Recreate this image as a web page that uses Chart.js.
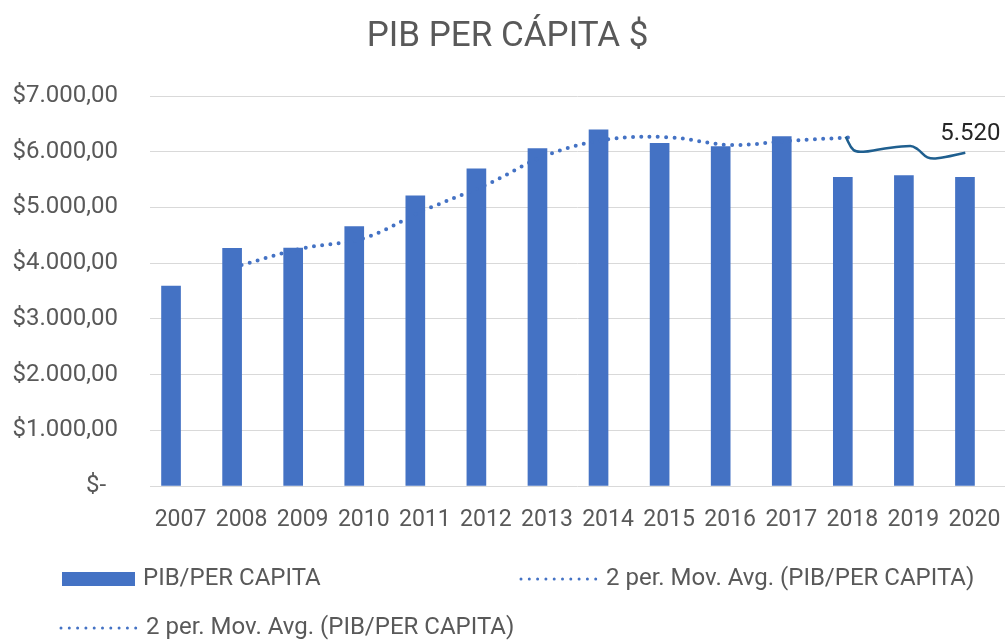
<html>
	<head>
		<script src="https://cdn.jsdelivr.net/npm/chart.js@4.4.1/dist/chart.umd.min.js"></script>
		<style>
			body { margin: 0; background: #ffffff; }
		</style>
	</head>
	<body>
		<canvas id="myChart" width="1005" height="641"></canvas>
		<script>
			// values
			var years = ['2007','2008','2009','2010','2011','2012','2013','2014','2015','2016','2017','2018','2019','2020'];
			var pib = [3590, 4267, 4270, 4655, 5206, 5691, 6056, 6391, 6152, 6092, 6271, 5542, 5571, 5542];
			var movAvg = [null, 3967, 4267, 4446, 4954, 5403, 5941, 6223, 6259, 6121, 6198, 6259, null, null];
			// the solid hand drawn bit at the end, x is the year position (0 = 2007)
			var trendX = [10.89, 11.02, 11.18, 11.46, 11.95, 12.07, 12.23, 12.39, 12.85];
			var trendY = [6270, 6031, 6001, 6044, 6103, 6044, 5900, 5882, 5983];
			var trendLabel = '5.520';
			// accounting format, zero is "$-" with a bit of space after it
			var yTickLabels = ['$-  ', '$1.000,00', '$2.000,00', '$3.000,00', '$4.000,00', '$5.000,00', '$6.000,00', '$7.000,00'];
			var seriesNames = ['PIB/PER CAPITA', '2 per. Mov. Avg. (PIB/PER CAPITA)', '2 per. Mov. Avg. (PIB/PER CAPITA)'];

			var color = {bar: '#4472C4', trend: '#1F5F8F', text: '#595959', grid: '#D9D9D9'};
			var font = 'Roboto';

			var trendPts = [];
			for(var i = 0; i < trendX.length; i++){
				trendPts.push({x: trendX[i], y: trendY[i]});
			}

			// legend drawn by hand so the rows sit like the excel one
			var legendPlugin = {
				id: 'handLegend',
				afterDraw: function(chart){
					var ctx = chart.ctx;
					var slots = [[62, 579], [520, 579], [60, 628]];
					ctx.save();
					ctx.font = '24px ' + font;
					ctx.textBaseline = 'middle';
					ctx.textAlign = 'left';
					for(var i = 0; i < chart.data.datasets.length; i++){
						var ds = chart.data.datasets[i];
						var x = slots[i][0], y = slots[i][1];
						if(ds.type === 'bar'){
							ctx.fillStyle = color.bar;
							ctx.fillRect(x, y - 7, 73, 14);
							ctx.fillStyle = color.text;
							ctx.fillText(ds.label, x + 81, y);
						}else{
							ctx.strokeStyle = color.bar;
							ctx.lineWidth = 3;
							ctx.lineCap = 'round';
							ctx.setLineDash([0, 8.3]);
							ctx.beginPath();
							ctx.moveTo(x + 1, y);
							ctx.lineTo(x + 76, y);
							ctx.stroke();
							ctx.setLineDash([]);
							ctx.fillStyle = color.text;
							ctx.fillText(ds.label, x + 86, y);
						}
					}
					ctx.restore();
				}
			};

			// the "5.520" text above the end of the solid line
			var trendLabelPlugin = {
				id: 'trendLabel',
				afterDatasetsDraw: function(chart){
					var meta = chart.getDatasetMeta(2);
					var last = meta.data[meta.data.length - 1];
					var ctx = chart.ctx;
					ctx.save();
					ctx.font = '24px ' + font;
					ctx.fillStyle = '#262626';
					ctx.textAlign = 'center';
					ctx.textBaseline = 'middle';
					ctx.fillText(trendLabel, last.x + 5, last.y - 19);
					ctx.restore();
				}
			};

			var ctx = document.getElementById('myChart').getContext('2d');
			var myChart = new Chart(ctx, {
				data: {
					labels: years,
					datasets: [{
						type: 'bar',
						label: seriesNames[0],
						data: pib,
						backgroundColor: color.bar,
						barThickness: 19,
						xAxisID: 'x',
						order: 3
					}, {
						type: 'line',
						label: seriesNames[1],
						data: movAvg,
						borderColor: color.bar,
						borderWidth: 4,
						borderDash: [0, 8.3],
						borderCapStyle: 'round',
						pointRadius: 0,
						tension: 0.35,
						fill: false,
						xAxisID: 'x',
						order: 2
					}, {
						type: 'line',
						label: seriesNames[2],
						data: trendPts,
						borderColor: color.trend,
						borderWidth: 2.5,
						pointRadius: 0,
						tension: 0.4,
						fill: false,
						xAxisID: 'xl',
						order: 1
					}]
				},
				options: {
					responsive: false,
					animation: false,
					layout: {padding: {left: 10, right: 0, top: 0, bottom: 107}},
					plugins: {
						legend: {display: false},
						tooltip: {enabled: false},
						title: {
							display: true,
							text: 'PIB PER CÁPITA $',
							color: color.text,
							font: {family: font, size: 35, weight: 'normal'},
							padding: {top: 16, bottom: 38}
						}
					},
					scales: {
						x: {
							type: 'category',
							offset: true,
							grid: {display: false, drawTicks: false},
							border: {display: false},
							ticks: {color: color.text, font: {family: font, size: 23}, padding: 20, maxRotation: 0, autoSkip: false},
							afterFit: function(scale){
								// no side padding for the end labels, fixed height
								scale.paddingLeft = 0;
								scale.paddingRight = 0;
								scale.height = 48;
							}
						},
						xl: {
							type: 'linear',
							display: false,
							min: -0.5,
							max: 13.5
						},
						y: {
							min: 0,
							max: 7000,
							grid: {color: color.grid, lineWidth: 1, drawTicks: false},
							border: {display: false},
							ticks: {
								stepSize: 1000,
								color: color.text,
								font: {family: font, size: 24},
								padding: 32,
								callback: function(v){ return yTickLabels[Math.round(v / 1000)]; }
							},
							afterFit: function(scale){
								scale.width = 140;
							}
						}
					}
				},
				plugins: [legendPlugin, trendLabelPlugin]
			});
		</script>
	</body>
</html>
